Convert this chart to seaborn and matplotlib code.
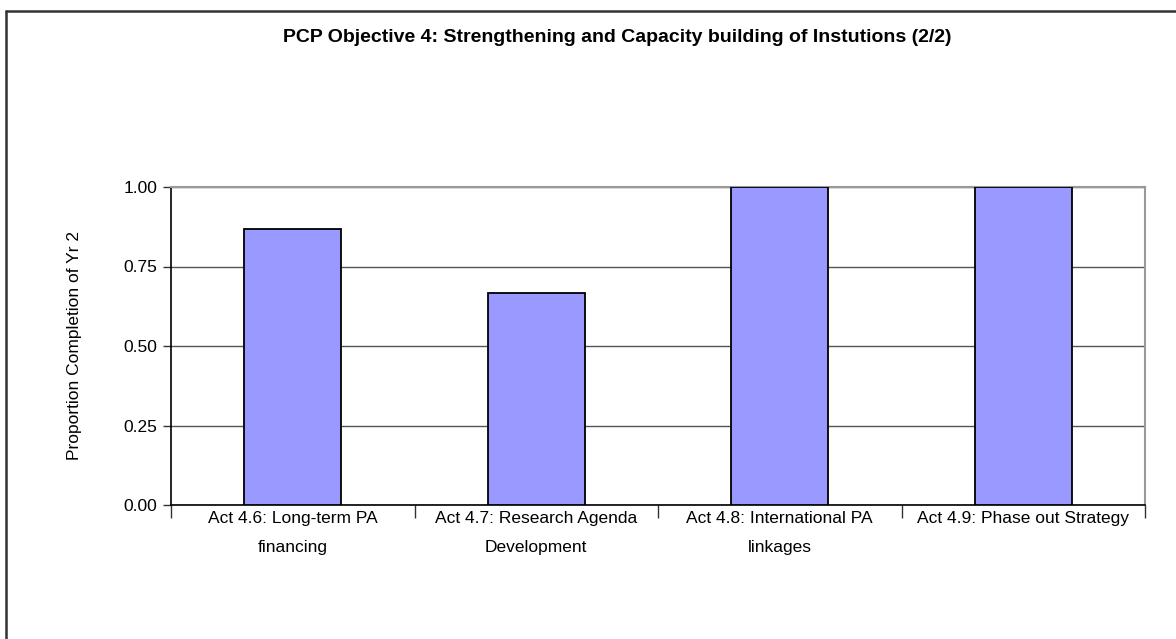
import matplotlib
matplotlib.use("Agg")
import matplotlib.pyplot as plt
import seaborn as sns
import pandas as pd
from matplotlib.lines import Line2D

# chart data
activities = ["Act 4.6: Long-term PA\nfinancing",
              "Act 4.7: Research Agenda\nDevelopment",
              "Act 4.8: International PA\nlinkages",
              "Act 4.9: Phase out Strategy"]
completion = [0.867, 0.667, 1.00, 1.00]
yticks = [0.00, 0.25, 0.50, 0.75, 1.00]

df = pd.DataFrame({"activity": activities, "completion": completion})

sns.set_style("white")
plt.rcParams["font.family"] = ["Liberation Sans Narrow", "Liberation Sans", "DejaVu Sans"]
plt.rcParams["text.color"] = "black"
plt.rcParams["axes.labelcolor"] = "black"
plt.rcParams["xtick.color"] = "black"
plt.rcParams["ytick.color"] = "black"

fig = plt.figure(figsize=(11.76, 6.39), dpi=100)
ax = fig.add_axes([171 / 1176, 1 - 505 / 639, (1145 - 171) / 1176, (505 - 187) / 639])

sns.barplot(data=df, x="activity", y="completion", color="#9999FF",
            saturation=1, width=0.4, edgecolor="black", linewidth=1.3, ax=ax, zorder=3)

ax.set_ylim(0, 1)
ax.set_xlim(-0.5, 3.5)
ax.set_yticks(yticks)
ax.set_yticklabels([f"{v:.2f}" for v in yticks], fontsize=12.5)
ax.yaxis.grid(True, color="#555555", linewidth=1.0, zorder=0)
ax.set_axisbelow(True)

# category labels at centres, tick marks at boundaries
ax.set_xticks(range(len(activities)))
ax.set_xticklabels(activities, fontsize=12.5, linespacing=2.2)
ax.set_xticks([i - 0.5 for i in range(len(activities) + 1)], minor=True)
ax.tick_params(axis="x", which="major", length=0, pad=4)
ax.tick_params(axis="x", which="minor", length=9, width=1, color="#333333", direction="out", bottom=True)
ax.tick_params(axis="y", length=6, width=1, color="#333333", direction="out", left=True, pad=4)

ax.set_xlabel("")
ax.set_ylabel("Proportion Completion of Yr 2", fontsize=12.5, labelpad=30)

for side in ["left", "bottom"]:
    ax.spines[side].set_color("black")
    ax.spines[side].set_linewidth(1.2)
for side in ["top", "right"]:
    ax.spines[side].set_visible(True)
    ax.spines[side].set_color("#999999")
    ax.spines[side].set_linewidth(1.5)

fig.text(617 / 1176, 1 - 38 / 639, "PCP Objective 4: Strengthening and Capacity building of Instutions (2/2)",
         ha="center", va="center", fontsize=14, fontweight="bold")

# outer chart border (left and top edges visible)
fig.add_artist(Line2D([6 / 1176, 6 / 1176], [0, 1 - 11 / 639], transform=fig.transFigure,
                      color="#333333", linewidth=1.8))
fig.add_artist(Line2D([6 / 1176, 1], [1 - 11 / 639, 1 - 11 / 639], transform=fig.transFigure,
                      color="#333333", linewidth=1.8))

fig.savefig("out.png", dpi=100)
